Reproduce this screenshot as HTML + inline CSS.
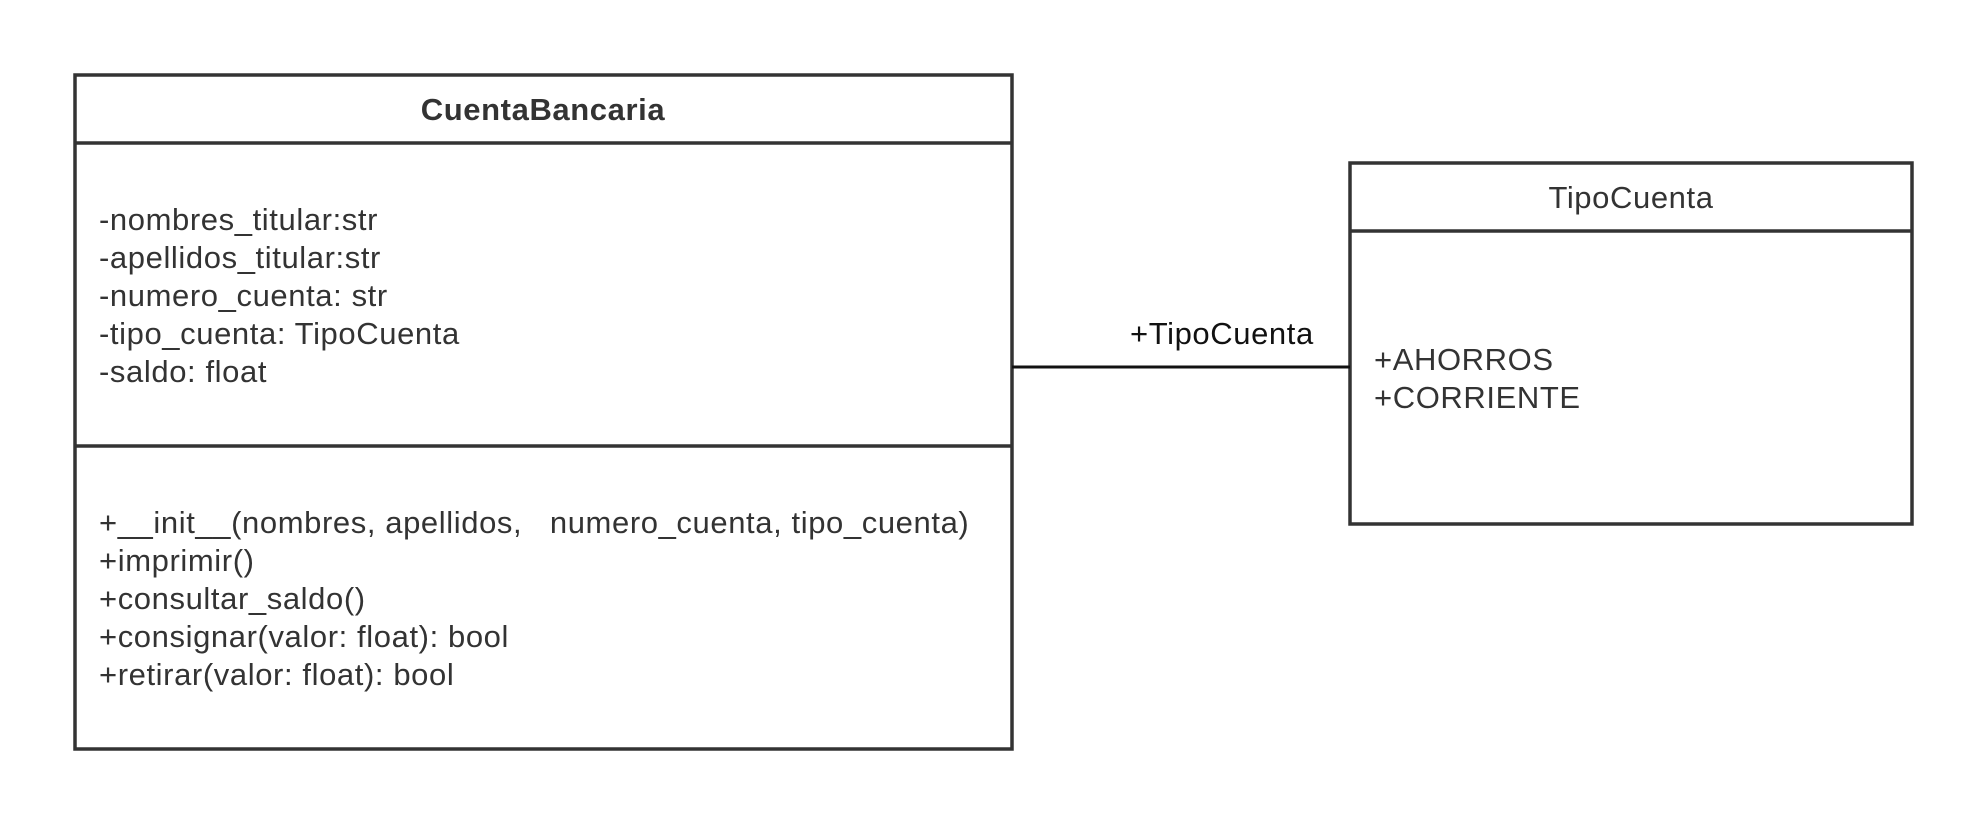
<!DOCTYPE html>
<html><head><meta charset="utf-8"><style>
html,body{margin:0;padding:0;background:#fff;}
svg{display:block;}
text{font-family:"Liberation Sans",Arial,sans-serif;font-size:31px;fill:#333;letter-spacing:0.6px;}
</style></head><body>
<svg width="1988" height="825" viewBox="0 0 1988 825" xmlns="http://www.w3.org/2000/svg">
<g fill="none" stroke="#333" stroke-width="3.5">
<rect x="75" y="75" width="937" height="674"/>
<line x1="75" y1="143" x2="1012" y2="143"/>
<line x1="75" y1="446" x2="1012" y2="446"/>
<rect x="1350" y="163" width="562" height="361"/>
<line x1="1350" y1="231" x2="1912" y2="231"/>
</g>
<line x1="1012" y1="367" x2="1350" y2="367" stroke="#111" stroke-width="3"/>
<text x="543" y="120" text-anchor="middle" font-weight="bold">CuentaBancaria</text>
<text x="99" y="230">-nombres_titular:str</text>
<text x="99" y="268">-apellidos_titular:str</text>
<text x="99" y="306">-numero_cuenta: str</text>
<text x="99" y="344">-tipo_cuenta: TipoCuenta</text>
<text x="99" y="382">-saldo: float</text>
<text x="99" y="533" xml:space="preserve">+__init__(nombres, apellidos,   numero_cuenta, tipo_cuenta)</text>
<text x="99" y="571">+imprimir()</text>
<text x="99" y="609">+consultar_saldo()</text>
<text x="99" y="647">+consignar(valor: float): bool</text>
<text x="99" y="685">+retirar(valor: float): bool</text>
<text x="1631" y="208" text-anchor="middle">TipoCuenta</text>
<text x="1374" y="370">+AHORROS</text>
<text x="1374" y="408">+CORRIENTE</text>
<text x="1130" y="344" style="fill:#111">+TipoCuenta</text>
</svg>
</body></html>
